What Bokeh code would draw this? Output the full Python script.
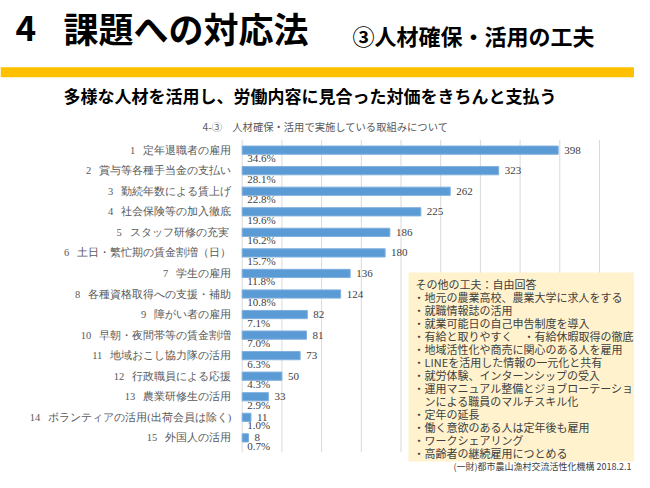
from bokeh.plotting import figure
from bokeh.layouts import column
from bokeh.models import (ColumnDataSource, FactorRange, Range1d, LabelSet, Label,
                          BoxAnnotation)
from bokeh.embed import file_html
from bokeh.resources import INLINE

# ---- data ----
categories = [
    "1\u00a0\u00a0\u00a0定年退職者の雇用",
    "2\u00a0\u00a0\u00a0賞与等各種手当金の支払い",
    "3\u00a0\u00a0\u00a0勤続年数による賃上げ",
    "4\u00a0\u00a0\u00a0社会保険等の加入徹底",
    "5\u00a0\u00a0\u00a0スタッフ研修の充実\u00a0",
    "6\u00a0\u00a0\u00a0土日・繁忙期の賃金割増（日）",
    "7\u00a0\u00a0\u00a0学生の雇用",
    "8\u00a0\u00a0\u00a0各種資格取得への支援・補助",
    "9\u00a0\u00a0\u00a0障がい者の雇用",
    "10\u00a0\u00a0\u00a0早朝・夜間帯等の賃金割増",
    "11\u00a0\u00a0\u00a0地域おこし協力隊の活用",
    "12\u00a0\u00a0\u00a0行政職員による応援",
    "13\u00a0\u00a0\u00a0農業研修生の活用",
    "14\u00a0\u00a0\u00a0ボランティアの活用(出荷会員は除く)",
    "15\u00a0\u00a0\u00a0外国人の活用",
]
counts = [398, 323, 262, 225, 186, 180, 136, 124, 82, 81, 73, 50, 33, 11, 8]
percents = [34.6, 28.1, 22.8, 19.6, 16.2, 15.7, 11.8, 10.8, 7.1, 7.0, 6.3, 4.3, 2.9, 1.0, 0.7]
x_ticks = [0, 50, 100, 150, 200, 250, 300, 350, 400, 450]

page_title_num = "4"
page_title = "課題への対応法"
page_subtitle_small = "③人材確保・活用の工夫"
page_lead = "多様な人材を活用し、労働内容に見合った対価をきちんと支払う"
chart_title = "4-③　人材確保・活用で実施している取組みについて"
other_lines = [
    "その他の工夫：自由回答",
    "・地元の農業高校、農業大学に求人をする",
    "・就職情報誌の活用",
    "・就業可能日の自己申告制度を導入",
    "・有給と取りやすく　・有給休暇取得の徹底",
    "・地域活性化や商売に関心のある人を雇用",
    "・LINEを活用した情報の一元化と共有",
    "・就労体験、インターンシップの受入",
    "・運用マニュアル整備とジョブローテーショ",
    "　ンによる職員のマルチスキル化",
    "・定年の延長",
    "・働く意欲のある人は定年後も雇用",
    "・ワークシェアリング",
    "・高齢者の継続雇用につとめる",
]
source_note = "(一財)都市農山漁村交流活性化機構 2018.2.1"

FONT = "Noto Sans CJK JP"

# ---- layout constants (pixels, from the top-left of the drawing) ----
W, H = 634, 472
HEAD_H = 115               # header strip
CHART_H = H - HEAD_H       # chart strip
X0_PX, X450_PX = 241.7, 599.0   # where value 0 and 450 sit
ROW_PX = 20.55                  # height of one category row

k = (X450_PX - X0_PX) / 450.0
x_start = -X0_PX / k
x_end = x_start + W / k
pad = (CHART_H / ROW_PX - len(categories)) / 2.0

# ---------------- header figure ----------------
hdr = figure(width=W, height=HEAD_H, output_backend="svg", toolbar_location=None,
             x_range=Range1d(0, W), y_range=Range1d(0, HEAD_H),
             x_axis_type=None, y_axis_type=None, min_border=0, title=None)
hdr.outline_line_color = None
hdr.grid.visible = False


def hput(text, px, py, size, color="#000000", bold=False, align="left"):
    hdr.add_layout(Label(x=px, y=HEAD_H - py, x_units="screen", y_units="screen",
                         text=text, text_font=FONT, text_font_size=size,
                         text_color=color, text_align=align, text_baseline="middle",
                         text_font_style="bold" if bold else "normal"))


hput(page_title_num, 15, 27, "35px", bold=True)
hput(page_title, 63, 27, "35px", bold=True)
hput(page_subtitle_small, 352, 34, "22px", bold=True)
hdr.add_layout(BoxAnnotation(left=0, right=W, top=HEAD_H - 66.7, bottom=HEAD_H - 76.7,
                             left_units="screen", right_units="screen",
                             top_units="screen", bottom_units="screen",
                             fill_color="#FFC000", fill_alpha=1, line_color=None))
hput(page_lead, 63, 95, "17px", bold=True)

# ---------------- chart figure ----------------
src = ColumnDataSource(dict(
    cat=categories,
    count=counts,
    count_txt=[str(c) for c in counts],
    pct_txt=[f"{p:.1f}%" for p in percents],
    zero=[0] * len(counts),
))

p = figure(width=W, height=CHART_H, output_backend="svg", toolbar_location=None,
           y_range=FactorRange(factors=list(reversed(categories)),
                               range_padding=pad, range_padding_units="absolute"),
           x_range=Range1d(x_start, x_end),
           x_axis_type=None, y_axis_type=None, min_border=0, title=None)
p.outline_line_color = None
p.grid.visible = False

# vertical grid lines limited to the bar area
n = len(categories)
p.segment(x0=x_ticks, x1=x_ticks, y0=[-0.2] * len(x_ticks), y1=[n] * len(x_ticks),
          line_color="#D9D9D9", line_width=1)

p.hbar(y="cat", right="count", height=0.4, source=src,
       fill_color="#5B9BD5", line_color="#7FB0DE", line_width=1)

p.add_layout(LabelSet(x="zero", y="cat", text="cat", source=src,
                      x_offset=-11, text_baseline="middle", text_align="right",
                      text_font=FONT, text_font_size="10.5px", text_color="#595959"))
p.add_layout(LabelSet(x="count", y="cat", text="count_txt", source=src,
                      x_offset=6, text_baseline="middle", text_align="left",
                      text_font=FONT, text_font_size="11px", text_color="#404040"))
p.add_layout(LabelSet(x="zero", y="cat", text="pct_txt", source=src,
                      x_offset=5, y_offset=-8, text_baseline="middle", text_align="left",
                      text_font=FONT, text_font_size="11px", text_color="#404040"))


def cy(py):
    return CHART_H - (py - HEAD_H)


def cput(text, px, py, size, color="#000000", bold=False, align="left"):
    p.add_layout(Label(x=px, y=cy(py), x_units="screen", y_units="screen",
                       text=text, text_font=FONT, text_font_size=size,
                       text_color=color, text_align=align, text_baseline="middle",
                       text_font_style="bold" if bold else "normal"))


cput(chart_title, 325, 126, "10.3px", color="#595959", align="center")

p.add_layout(BoxAnnotation(left=408, right=W, top=cy(272), bottom=cy(461),
                           left_units="screen", right_units="screen",
                           top_units="screen", bottom_units="screen",
                           fill_color="#FFF2CC", fill_alpha=1, line_color=None))
for i, line in enumerate(other_lines):
    cput(line, 413 if i else 415, 283 + 13 * i, "11px", color="#404040")

cput(source_note, 631, 466, "9px", color="#404040", align="right")

page = column(hdr, p, spacing=0)
open("out.html", "w").write(file_html(page, INLINE))
